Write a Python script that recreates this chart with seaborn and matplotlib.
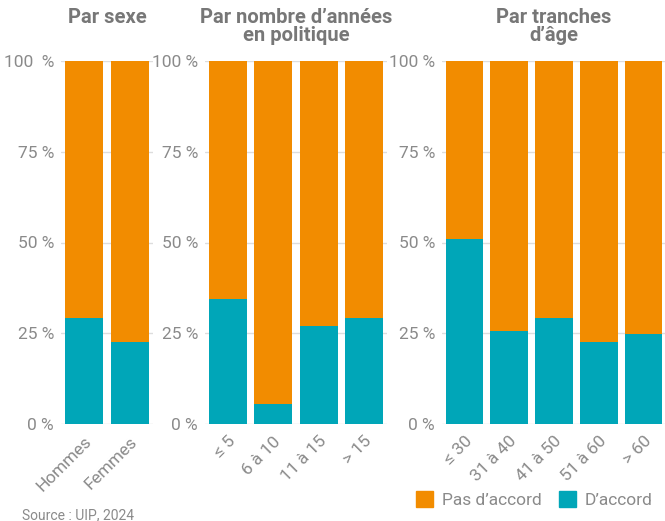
import pandas as pd
import matplotlib.pyplot as plt
import seaborn as sns
from matplotlib.patches import Patch

sexe = ["Hommes", "Femmes"]
sexe_accord = [29.2, 22.6]

annees = ["≤ 5", "6 à 10", "11 à 15", "> 15"]
annees_accord = [34.4, 5.5, 27.0, 29.2]

ages = ["≤ 30", "31 à 40", "41 à 50", "51 à 60", "> 60"]
ages_accord = [51.0, 25.6, 29.2, 22.6, 24.8]

titles = ["Par sexe", "Par nombre d’années\nen politique", "Par tranches\nd’âge"]
ytick_labels = [["0 %", "25 %", "50 %", "75 %", "100  %"],
                ["0 %", "25 %", "50 %", "75 %", "100 %"],
                ["0 %", "25 %", "50 %", "75 %", "100 %"]]

orange = "#F28C00"
teal = "#00A6B8"
gray = "#8a8a8a"

sns.set_style("white")
plt.rcParams["font.family"] = ["Roboto", "DejaVu Sans"]

fig = plt.figure(figsize=(6.65, 5.21), dpi=100)

# axes positions in pixels (left, right)
pos = [(61, 153), (205, 387), (442, 666)]
bottom = 1 - 424 / 521
height = (424 - 61) / 521

groups = [(sexe, sexe_accord), (annees, annees_accord), (ages, ages_accord)]

for i, ((cats, vals), (l, r)) in enumerate(zip(groups, pos)):
    ax = fig.add_axes([l / 665, bottom, (r - l) / 665, height])
    df = pd.DataFrame({"cat": cats, "accord": vals, "total": [100] * len(cats)})
    ax.set_axisbelow(True)
    ax.grid(axis="y", color="#dddddd", linewidth=1)
    sns.barplot(data=df, x="cat", y="total", color=orange, width=0.84,
                saturation=1, linewidth=0, ax=ax, zorder=2)
    sns.barplot(data=df, x="cat", y="accord", color=teal, width=0.84,
                saturation=1, linewidth=0, ax=ax, zorder=3)
    ax.set_ylim(0, 100)
    ax.set_xlim(-0.5, len(cats) - 0.5)
    ax.set_yticks([0, 25, 50, 75, 100])
    ax.set_yticklabels(ytick_labels[i])
    ax.set_xlabel("")
    ax.set_ylabel("")
    ax.tick_params(axis="both", length=0, colors=gray, labelsize=12.5)
    ax.tick_params(axis="y", pad=5)
    ax.tick_params(axis="x", pad=7)
    plt.setp(ax.get_xticklabels(), rotation=45, ha="right",
             rotation_mode="anchor")
    for s in ax.spines.values():
        s.set_visible(False)
    fig.text((l + r) / 2 / 665, 1 - 8 / 521, titles[i], ha="center", va="top",
             fontsize=14.5, fontweight="bold", color="#777777", linespacing=0.95)

handles = [Patch(color=orange, label="Pas d’accord"),
           Patch(color=teal, label="D’accord")]
fig.legend(handles=handles, loc="lower right", bbox_to_anchor=(1.005, -0.005),
           ncol=2, frameon=False, fontsize=12.5, labelcolor=gray,
           handlelength=1.0, handleheight=1.0, handletextpad=0.5,
           columnspacing=1.0)

fig.text(22 / 665, 1 - 515 / 521, "Source : UIP, 2024", ha="left", va="center",
         fontsize=10, color=gray)

fig.savefig("out.png", dpi=100)
